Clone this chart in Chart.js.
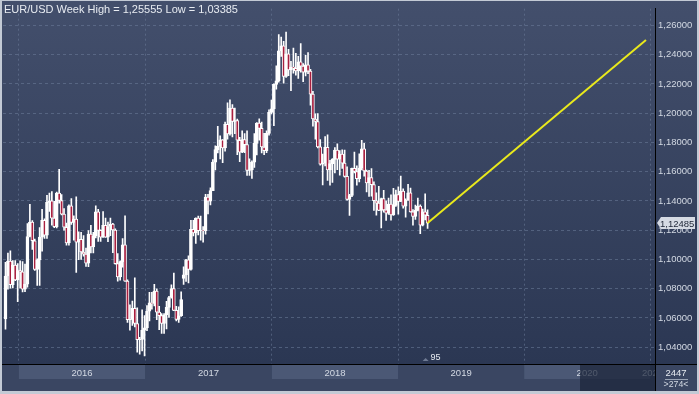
<!DOCTYPE html>
<html>
<head>
<meta charset="utf-8">
<script src="https://cdn.jsdelivr.net/npm/chart.js@4.4.1/dist/chart.umd.min.js"></script>
<style>
  html, body { margin: 0; padding: 0; background: #c3cad5; }
  canvas { display: block; }
</style>
</head>
<body>
<canvas id="myChart" width="699" height="394"></canvas>
<script>
// EUR/USD weekly candles, one entry per week (index 0 = first visible week)
var opens = [
 1.0593,1.0887,1.0989,1.0828,1.0962,1.0860,1.0924,1.0915,1.0796,1.0831,
 1.1157,1.1255,1.1128,1.0932,1.0997,1.1153,1.1268,1.1166,1.1390,1.1400,
 1.1283,1.1224,1.1453,1.1403,1.1310,1.1220,1.1113,1.1367,1.1253,1.1276,
 1.1118,1.1138,1.1051,1.1036,1.0975,1.1174,1.1086,1.1161,1.1325,1.1199,
 1.1153,1.1233,1.1153,1.1225,1.1241,1.1201,1.0971,1.0880,1.0985,1.1100,
 1.0852,1.0588,1.0590,1.0665,1.0562,1.0451,1.0454,1.0517,1.0532,1.0647,
 1.0703,1.0699,1.0784,1.0640,1.0616,1.0562,1.0622,1.0672,1.0740,1.0801,
 1.0652,1.0590,1.0615,1.0870,1.0895,1.0998,1.0931,1.1206,1.1182,1.1282,
 1.1197,1.1198,1.1196,1.1426,1.1399,1.1471,1.1665,1.1751,1.1773,1.1817,
 1.1762,1.1924,1.1859,1.2035,1.1943,1.1950,1.1815,1.1733,1.1820,1.1785,
 1.1608,1.1612,1.1665,1.1794,1.1932,1.1896,1.1769,1.1743,1.1862,1.2005,
 1.2029,1.2197,1.2222,1.2426,1.2460,1.2252,1.2405,1.2295,1.2316,1.2307,
 1.2289,1.2351,1.2322,1.2281,1.2330,1.2288,1.2130,1.1960,1.1943,1.1770,
 1.1652,1.1658,1.1767,1.1612,1.1655,1.1684,1.1747,1.1685,1.1720,1.1658,
 1.1568,1.1410,1.1437,1.1623,1.1601,1.1552,1.1625,1.1756,1.1605,1.1524,
 1.1560,1.1511,1.1401,1.1385,1.1336,1.1416,1.1339,1.1317,1.1379,1.1304,
 1.1370,1.1443,1.1396,1.1468,1.1365,1.1405,1.1456,1.1325,1.1295,1.1336,
 1.1365,1.1235,1.1326,1.1302
];
var highs = [
 1.0981,1.1043,1.1059,1.0993,1.0993,1.0971,1.0990,1.0985,1.0969,1.1245,
 1.1376,1.1266,1.1140,1.1004,1.1218,1.1342,1.1277,1.1438,1.1454,1.1464,
 1.1398,1.1460,1.1616,1.1444,1.1348,1.1249,1.1374,1.1416,1.1298,1.1428,
 1.1188,1.1185,1.1164,1.1078,1.1198,1.1234,1.1186,1.1366,1.1342,1.1203,
 1.1328,1.1283,1.1256,1.1283,1.1247,1.1209,1.1040,1.0990,1.1143,1.1299,
 1.0860,1.0690,1.0716,1.0874,1.0669,1.0468,1.0655,1.0616,1.0685,1.0775,
 1.0775,1.0829,1.0799,1.0680,1.0630,1.0630,1.0714,1.0747,1.0826,1.0906,
 1.0680,1.0676,1.0778,1.0950,1.1000,1.1024,1.1268,1.1268,1.1285,1.1296,
 1.1296,1.1224,1.1445,1.1446,1.1490,1.1683,1.1777,1.1910,1.1846,1.1820,
 1.1940,1.2070,1.2092,1.2058,1.2035,1.1960,1.1835,1.1880,1.1861,1.1880,
 1.1688,1.1674,1.1861,1.1936,1.1961,1.1940,1.1863,1.1880,1.2023,1.2089,
 1.2200,1.2323,1.2537,1.2520,1.2492,1.2555,1.2436,1.2354,1.2446,1.2410,
 1.2388,1.2476,1.2340,1.2396,1.2414,1.2300,1.2150,1.1996,1.1997,1.1820,
 1.1720,1.1840,1.1852,1.1677,1.1690,1.1764,1.1791,1.1745,1.1750,1.1747,
 1.1633,1.1445,1.1625,1.1734,1.1640,1.1722,1.1815,1.1794,1.1611,1.1609,
 1.1621,1.1531,1.1456,1.1500,1.1420,1.1472,1.1400,1.1420,1.1442,1.1486,
 1.1474,1.1497,1.1570,1.1483,1.1415,1.1514,1.1488,1.1341,1.1372,1.1420,
 1.1374,1.1345,1.1448,1.1340
];
var lows = [
 1.0524,1.0796,1.0804,1.0805,1.0855,1.0711,1.0804,1.0778,1.0780,1.0810,
 1.1154,1.1068,1.0925,1.0822,1.0822,1.1057,1.1144,1.1143,1.1328,1.1234,
 1.1217,1.1216,1.1385,1.1305,1.1200,1.1097,1.1098,1.1240,1.1131,1.0912,
 1.0999,1.1000,1.1022,1.0952,1.0951,1.1044,1.1045,1.1148,1.1124,1.1123,
 1.1150,1.1150,1.1122,1.1162,1.1047,1.0968,1.0851,1.0859,1.0947,1.0850,
 1.0569,1.0517,1.0549,1.0538,1.0366,1.0352,1.0375,1.0340,1.0513,1.0580,
 1.0660,1.0682,1.0589,1.0520,1.0494,1.0494,1.0525,1.0603,1.0735,1.0650,
 1.0580,1.0570,1.0611,1.0830,1.0850,1.0840,1.0926,1.1161,1.1110,1.1168,
 1.1132,1.1118,1.1173,1.1312,1.1372,1.1470,1.1612,1.1729,1.1688,1.1662,
 1.1740,1.1823,1.1850,1.1838,1.1860,1.1717,1.1668,1.1730,1.1730,1.1574,
 1.1574,1.1554,1.1630,1.1715,1.1815,1.1729,1.1717,1.1730,1.1849,1.1995,
 1.1915,1.2165,1.2212,1.2388,1.2206,1.2245,1.2256,1.2154,1.2273,1.2260,
 1.2238,1.2280,1.2215,1.2255,1.2270,1.2055,1.1911,1.1823,1.1762,1.1645,
 1.1510,1.1640,1.1541,1.1508,1.1526,1.1591,1.1614,1.1576,1.1622,1.1562,
 1.1405,1.1301,1.1430,1.1592,1.1508,1.1530,1.1612,1.1570,1.1461,1.1431,
 1.1432,1.1335,1.1302,1.1334,1.1216,1.1323,1.1267,1.1308,1.1269,1.1301,
 1.1363,1.1309,1.1395,1.1351,1.1289,1.1404,1.1324,1.1234,1.1274,1.1332,
 1.1176,1.1230,1.1270,1.1212
];
var closes = [
 1.0887,1.0989,1.0828,1.0962,1.0860,1.0924,1.0915,1.0796,1.0831,1.1157,
 1.1255,1.1128,1.0932,1.0997,1.1153,1.1268,1.1166,1.1390,1.1400,1.1283,
 1.1224,1.1453,1.1403,1.1310,1.1220,1.1113,1.1367,1.1253,1.1276,1.1118,
 1.1138,1.1051,1.1036,1.0975,1.1174,1.1086,1.1161,1.1325,1.1199,1.1153,
 1.1233,1.1153,1.1225,1.1241,1.1201,1.0971,1.0880,1.0985,1.1100,1.0852,
 1.0588,1.0590,1.0665,1.0562,1.0451,1.0454,1.0517,1.0532,1.0647,1.0703,
 1.0699,1.0784,1.0640,1.0616,1.0562,1.0622,1.0672,1.0740,1.0801,1.0652,
 1.0590,1.0615,1.0726,1.0895,1.0998,1.0931,1.1206,1.1182,1.1282,1.1197,
 1.1198,1.1196,1.1426,1.1399,1.1471,1.1665,1.1751,1.1773,1.1817,1.1762,
 1.1924,1.1859,1.2035,1.1943,1.1950,1.1815,1.1733,1.1820,1.1785,1.1608,
 1.1612,1.1665,1.1794,1.1932,1.1896,1.1769,1.1743,1.1862,1.2005,1.2029,
 1.2197,1.2222,1.2426,1.2460,1.2252,1.2405,1.2295,1.2316,1.2307,1.2289,
 1.2351,1.2322,1.2281,1.2330,1.2288,1.2130,1.1960,1.1943,1.1770,1.1652,
 1.1658,1.1767,1.1612,1.1655,1.1684,1.1747,1.1685,1.1720,1.1658,1.1568,
 1.1410,1.1437,1.1623,1.1601,1.1552,1.1625,1.1756,1.1605,1.1524,1.1560,
 1.1511,1.1401,1.1385,1.1336,1.1416,1.1339,1.1317,1.1379,1.1304,1.1370,
 1.1443,1.1396,1.1468,1.1365,1.1405,1.1456,1.1325,1.1295,1.1336,1.1365,
 1.1235,1.1326,1.1302,1.12485
];

// projection line: from last close to target (week index, price)
var projWeeks = [173, 262.5];
var projPrices = [1.12485, 1.25];

// year boundaries in week units and their labels
var yearStarts = [5.5, 57.2, 109.2, 160.9, 212.6, 264.2];
var yearLabels = ['2016', '2017', '2018', '2019', '2020', '2021'];
var priceTicks = [1.04, 1.06, 1.08, 1.10, 1.12, 1.14, 1.16, 1.18, 1.20, 1.22, 1.24, 1.26];

var titleText = 'EUR/USD Week High = 1,25555 Low = 1,03385';
var barsCount = '2447';
var visibleCount = '>274<';
var markerText = '95';

function fmt(v) { return v.toFixed(5).replace('.', ','); }

// narrow face for the number labels, if the machine has it
var numFamily = '"Liberation Sans", Arial, sans-serif', numSize = 9.5;
(function() {
    var c = document.createElement('canvas').getContext('2d');
    c.font = '11px "Liberation Sans Narrow", monospace';
    var w1 = c.measureText('1,26000').width;
    c.font = '11px monospace';
    var w2 = c.measureText('1,26000').width;
    if (w1 !== w2) { numFamily = '"Liberation Sans Narrow", sans-serif'; numSize = 11; }
})();
function numFont(k) { return (numSize * (k || 1)) + 'px ' + numFamily; }

var bodies = [], wicks = [], bodyColors = [];
for (let i = 0; i < opens.length; i++) {
    bodies.push({x: i, y: [opens[i], closes[i]]});
    wicks.push({x: i, y: [lows[i], highs[i]]});
    bodyColors.push(closes[i] < opens[i] ? '#a81f3f' : '#ffffff');
}
var proj = projWeeks.map((w, k) => ({x: w, y: projPrices[k]}));

const frame = {
    id: 'frame',
    beforeDraw(chart) {
        const ctx = chart.ctx, a = chart.chartArea, W = chart.width, H = chart.height;
        const xs = chart.scales.x;
        ctx.save();
        ctx.fillStyle = '#c3cad5';
        ctx.fillRect(0, 0, W, H);
        let g = ctx.createLinearGradient(0, 0, 0, a.bottom);
        g.addColorStop(0, '#434f6c');
        g.addColorStop(1, '#2b3753');
        ctx.fillStyle = g;
        ctx.fillRect(2, 1, W - 4, a.bottom - 1);
        ctx.fillStyle = '#3a4662';
        ctx.fillRect(2, a.bottom, W - 4, H - 3 - a.bottom);
        // alternating year bands
        ctx.fillStyle = '#4b5875';
        for (let k = 0; k < yearStarts.length - 1; k += 2) {
            let x0 = xs.getPixelForValue(yearStarts[k]);
            let x1 = Math.min(xs.getPixelForValue(yearStarts[k + 1]), a.right);
            ctx.fillRect(x0, a.bottom + 1, x1 - x0, 14);
        }
        ctx.restore();
    },
    afterDraw(chart) {
        const ctx = chart.ctx, a = chart.chartArea, W = chart.width, H = chart.height;
        const xs = chart.scales.x, ys = chart.scales.y;
        ctx.save();
        // year labels
        ctx.font = numFont();
        ctx.textAlign = 'center';
        ctx.textBaseline = 'middle';
        ctx.fillStyle = '#d3d9e3';
        for (let k = 0; k < yearLabels.length - 1; k++) {
            let x0 = xs.getPixelForValue(yearStarts[k]);
            let x1 = xs.getPixelForValue(yearStarts[k + 1]);
            ctx.fillText(yearLabels[k], (x0 + x1) / 2, a.bottom + 9);
        }
        // last year label, cut by the price axis
        ctx.save();
        ctx.beginPath();
        ctx.rect(a.left, a.bottom, a.right - a.left, H - a.bottom);
        ctx.clip();
        ctx.textAlign = 'left';
        ctx.fillText(yearLabels[yearLabels.length - 1], 642, a.bottom + 9);
        ctx.restore();
        // dark scroll overlay at the right end of the time axis
        ctx.fillStyle = 'rgba(28,37,58,0.72)';
        ctx.fillRect(580, a.bottom + 1, a.right - 580, H - 4 - a.bottom);
        // separators
        ctx.fillStyle = '#000';
        ctx.fillRect(a.right, a.bottom, 1, H - 3 - a.bottom);
        ctx.fillRect(2, a.bottom, W - 4, 1);
        // bar counter box
        ctx.fillStyle = '#e6eaf0';
        ctx.font = numFont();
        ctx.fillText(barsCount, 676, a.bottom + 9);
        ctx.fillStyle = '#9aa4b5';
        ctx.fillRect(665, a.bottom + 15, 23, 1);
        ctx.fillStyle = '#d3d9e3';
        ctx.font = numFont(0.92);
        ctx.fillText(visibleCount, 676, a.bottom + 21);
        // title
        ctx.textAlign = 'left';
        ctx.font = '11px "Liberation Sans", Arial, sans-serif';
        ctx.fillStyle = '#e8ecf2';
        ctx.fillText(titleText, 4, 10);
        // small marker under last candle
        let mx = xs.getPixelForValue(opens.length - 1);
        ctx.fillStyle = '#6e7a93';
        ctx.beginPath();
        ctx.moveTo(mx - 5, a.bottom - 3);
        ctx.lineTo(mx - 2, a.bottom - 6);
        ctx.lineTo(mx + 1, a.bottom - 3);
        ctx.fill();
        ctx.fillStyle = '#e6eaf0';
        ctx.font = numFont(0.95);
        ctx.fillText(markerText, mx + 3, a.bottom - 6);
        // current price tag
        let last = closes[closes.length - 1];
        let py = Math.round(ys.getPixelForValue(last));
        ctx.fillStyle = '#d5dae3';
        ctx.beginPath();
        ctx.moveTo(a.right + 2, py);
        ctx.lineTo(a.right + 6, py - 6);
        ctx.lineTo(a.right + 40, py - 6);
        ctx.lineTo(a.right + 40, py + 6);
        ctx.lineTo(a.right + 6, py + 6);
        ctx.closePath();
        ctx.fill();
        ctx.fillStyle = '#1d2536';
        ctx.font = numFont();
        ctx.fillText(fmt(last), a.right + 5, py + 1);
        ctx.restore();
    }
};

const ctx = document.getElementById('myChart').getContext('2d');
const myChart = new Chart(ctx, {
    type: 'bar',
    data: {
        datasets: [
            {
                type: 'line',
                data: proj,
                borderColor: '#e9e91c',
                borderWidth: 2,
                pointRadius: 0,
                order: 0
            },
            {
                data: bodies,
                backgroundColor: bodyColors,
                borderColor: '#ffffff',
                borderWidth: 1,
                borderSkipped: false,
                barThickness: 3,
                grouped: false,
                order: 1
            },
            {
                data: wicks,
                backgroundColor: '#ffffff',
                borderWidth: 0,
                barThickness: 1,
                grouped: false,
                order: 2
            }
        ]
    },
    options: {
        responsive: false,
        animation: false,
        events: [],
        layout: { padding: { top: 3, left: 3, right: 2, bottom: 0 } },
        plugins: { legend: { display: false }, tooltip: { enabled: false } },
        scales: {
            x: {
                type: 'linear',
                min: -1.02,
                max: 266.2,
                offset: false,
                afterBuildTicks: s => { s.ticks = yearStarts.map(v => ({value: v})); },
                afterFit: s => { s.height = 30; },
                ticks: { display: false },
                grid: { color: 'rgba(110,125,155,0.55)', drawTicks: false, offset: false },
                border: { display: true, color: '#000', width: 1, dash: [2, 3] }
            },
            y: {
                position: 'right',
                min: 1.02851,
                max: 1.27144,
                afterBuildTicks: s => { s.ticks = priceTicks.map(v => ({value: v})); },
                afterFit: s => { s.width = 42; },
                ticks: {
                    color: '#d3d9e3',
                    padding: 3,
                    font: { family: numFamily, size: numSize },
                    callback: v => fmt(v)
                },
                grid: { color: 'rgba(110,125,155,0.55)', drawTicks: false },
                border: { display: true, color: '#000', width: 1, dash: [3, 3] }
            }
        }
    },
    plugins: [frame]
});
</script>
</body>
</html>
